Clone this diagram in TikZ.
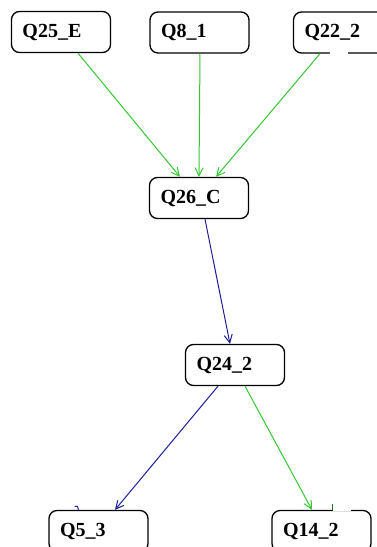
\documentclass[tikz,border=0pt]{standalone}
\usepackage{fontspec}
\setmainfont{Liberation Serif}
\usetikzlibrary{arrows.meta}
\definecolor{edgegreen}{RGB}{50,200,50}
\definecolor{edgeblue}{RGB}{30,30,150}
\begin{document}
\begin{tikzpicture}[x=1pt,y=-1pt,
  qbox/.style={draw=black, line width=1.3pt, rounded corners=8pt, fill=white,
    minimum width=99pt, minimum height=41pt, inner xsep=11pt, text width=77pt,
    align=left, font=\fontsize{20}{22}\selectfont\bfseries},
  gedge/.style={draw=edgegreen, line width=1pt, -{Straight Barb[length=8pt,width=8pt]}},
  bedge/.style={draw=edgeblue, line width=1pt, -{Straight Barb[length=8pt,width=8pt]}}]
\useasboundingbox (0,0) rectangle (376,547);
\fill[white] (0,0) rectangle (376,547);
\node[qbox] (q25) at (61,32) {Q25\_E};
\node[qbox] (q8) at (199.5,32.5) {Q8\_1};
\node[qbox] (q22) at (343,32.5) {Q22\_2};
\node[qbox] (q26) at (199,198) {Q26\_C};
\node[qbox] (q24) at (235,365) {Q24\_2};
\node[qbox] (q5) at (98.5,531) {Q5\_3};
\node[qbox] (q14) at (321.5,531) {Q14\_2};
\draw[gedge] ([xshift=17pt]q25.south) -- ([xshift=-19pt]q26.north);
\draw[gedge] ([xshift=0.5pt]q8.south) -- ([xshift=0pt]q26.north);
\draw[gedge] ([xshift=-23pt]q22.south) -- ([xshift=17pt]q26.north);
\draw[bedge] ([xshift=6pt]q26.south) -- ([xshift=-5pt]q24.north);
\draw[bedge] ([xshift=-17pt]q24.south) -- ([xshift=16.5pt]q5.north);
\draw[gedge] ([xshift=10pt]q24.south) -- ([xshift=-9.5pt]q14.north);
% small gaps and marks as in the picture
\coordinate (g1) at ([xshift=-13pt]q22.south);
\fill[white] ([yshift=-1.5pt]g1) rectangle ([xshift=18pt,yshift=1.5pt]g1);
\coordinate (g2) at ([xshift=11pt]q14.north);
\fill[white] ([yshift=-1.5pt]g2) rectangle ([xshift=18pt,yshift=1.5pt]g2);
\draw[edgegreen!60!black, line width=1pt] (g2) -- ++(0,-6);
\coordinate (h1) at ([xshift=-20pt]q5.north);
\draw[edgeblue, line width=1pt] ([yshift=-0.5pt]h1) -- ++(-1,-4) -- ++(-3,0);
\end{tikzpicture}
\end{document}
